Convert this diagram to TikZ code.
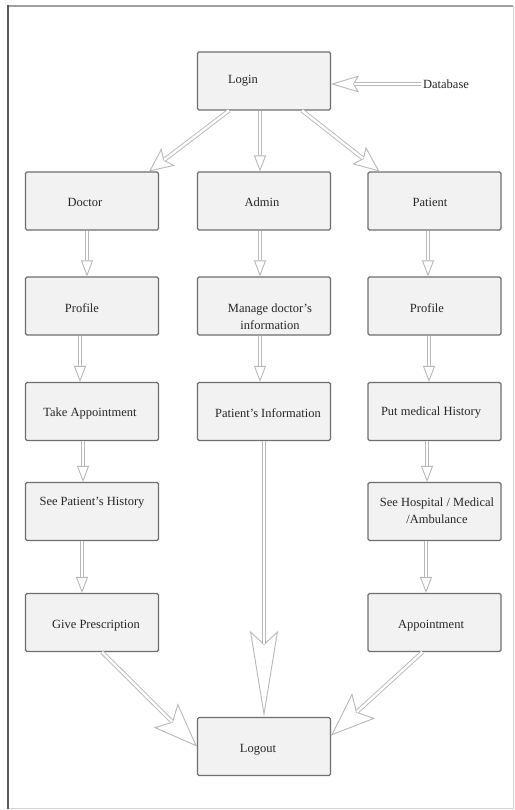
\documentclass[tikz,border=0pt]{standalone}
\usepackage{fontspec}
\setmainfont{Liberation Serif}
\usetikzlibrary{arrows.meta}
\definecolor{boxfill}{HTML}{F2F2F2}
\definecolor{boxline}{HTML}{6E6E6E}
\definecolor{arrcol}{HTML}{B8B8B8}
\begin{document}
\begin{tikzpicture}[x=1pt,y=-1pt,
  box/.style={draw=boxline, fill=boxfill, line width=1.1pt, rounded corners=1.5pt,
    minimum width=133pt, minimum height=58pt, inner sep=0pt},
  lbl/.style={font=\fontsize{12.5}{17}\selectfont, align=center, inner sep=0pt, text=black!85},
  arr/.style 2 args={draw=arrcol, line width=0.9pt,
    -{Triangle[length=#1, width=#2, fill=white]},
    postaction={draw=arrcol, line width=0.9pt, double=white, double distance=2.2pt, shorten >=#1, -}},
  arrs/.style n args={3}{draw=arrcol, line width=0.9pt,
    -{Stealth[length=#1, width=#2, inset=#3, fill=white]},
    postaction={draw=arrcol, line width=0.9pt, double=white, double distance=2.4pt, shorten >=#1-#3, -}},
]
\useasboundingbox (0,0) rectangle (514,810);
\fill[white] (0,0) rectangle (514,810);
% frame
\draw[gray!75, line width=1.5pt] (8,6) -- (513,6);
\draw[gray!35, line width=1pt] (513,6) -- (513,808) -- (8,808);
\draw[black!65, line width=2.6pt] (8,5) -- (8,809);

% boxes
\node[box] (login)   at (264,81) {};
\node[box] (doctor)  at (92,201) {};
\node[box] (admin)   at (264,201) {};
\node[box] (patient) at (434.5,201) {};
\node[box] (profL)   at (92,306) {};
\node[box] (manage)  at (264,306) {};
\node[box] (profR)   at (434.5,306) {};
\node[box] (take)    at (92,411.5) {};
\node[box] (pinfo)   at (264,411.5) {};
\node[box] (putmed)  at (434.5,411.5) {};
\node[box] (seeP)    at (92,511.5) {};
\node[box] (seeH)    at (434.5,511.5) {};
\node[box] (give)    at (92,622.5) {};
\node[box] (appt)    at (434.5,622.5) {};
\node[box] (logout)  at (264,746.5) {};

% texts
\node[lbl] (tlogin) at (243,81) {Login};
\node[lbl] (db) at (446,84) {Database};
\node[lbl] (tdoctor) at (85,202) {Doctor};
\node[lbl] (tadmin) at (262,202) {Admin};
\node[lbl] (tpatient) at (430,202) {Patient};
\node[lbl] (tprofL) at (82,308) {Profile};
\node[lbl] (tmanage) at (270,316.5) {Manage doctor's\\information};
\node[lbl] (tprofR) at (427,308) {Profile};
\node[lbl] (ttake) at (90,413) {Take Appointment};
\node[lbl] (tpinfo) at (268,413) {Patient's Information};
\node[lbl] (tputmed) at (431,413) {Put medical History};
\node[lbl] (tseeP) at (92,503) {See Patient's History};
\node[lbl] (tseeH) at (437,511) {See Hospital / Medical\\/Ambulance};
\node[lbl] (tgive) at (96,626) {Give Prescription};
\node[lbl] (tappt) at (431,626) {Appointment};
\node[lbl] (tlogout) at (258,750) {Logout};

% connectors
\draw[arrs={28pt}{17pt}{5pt}] ([xshift=-2pt]db.west) -- ([yshift=-3pt]login.east);
\draw[arrs={24pt}{22pt}{5pt}] ([xshift=-35pt]login.south) -- ([xshift=-10pt]doctor.north east);
\draw[arr={16pt}{12pt}] ([xshift=-4pt]login.south) -- ([xshift=-4pt]admin.north);
\draw[arrs={26pt}{22pt}{5pt}] ([xshift=38pt]login.south) -- ([xshift=12pt]patient.north west);

\draw[arr={16pt}{12pt}] ([xshift=-5pt]doctor.south) -- ([xshift=-5pt]profL.north);
\draw[arr={16pt}{12pt}] ([xshift=-12pt]profL.south) -- ([xshift=-12pt]take.north);
\draw[arr={16pt}{12pt}] ([xshift=-9pt]take.south) -- ([xshift=-9pt]seeP.north);
\draw[arr={16pt}{12pt}] ([xshift=-10pt]seeP.south) -- ([xshift=-10pt]give.north);

\draw[arr={16pt}{12pt}] ([xshift=-4pt]admin.south) -- ([xshift=-4pt]manage.north);
\draw[arr={16pt}{12pt}] ([xshift=-4pt]manage.south) -- ([xshift=-4pt]pinfo.north);

\draw[arr={16pt}{12pt}] ([xshift=-6.5pt]patient.south) -- ([xshift=-6.5pt]profR.north);
\draw[arr={16pt}{12pt}] ([xshift=-5.5pt]profR.south) -- ([xshift=-5.5pt]putmed.north);
\draw[arr={16pt}{12pt}] ([xshift=-7.5pt]putmed.south) -- ([xshift=-7.5pt]seeH.north);
\draw[arr={16pt}{12pt}] ([xshift=-8.5pt]seeH.south) -- ([xshift=-8.5pt]appt.north);

\draw[arrs={86pt}{28pt}{13pt}] (pinfo.south) -- (logout.north);
\draw[arrs={44pt}{34pt}{9pt}] ([xshift=10pt]give.south) -- (logout.west);
\draw[arrs={44pt}{34pt}{9pt}] ([xshift=-12pt]appt.south) -- ([yshift=11pt]logout.east);
\end{tikzpicture}
\end{document}
